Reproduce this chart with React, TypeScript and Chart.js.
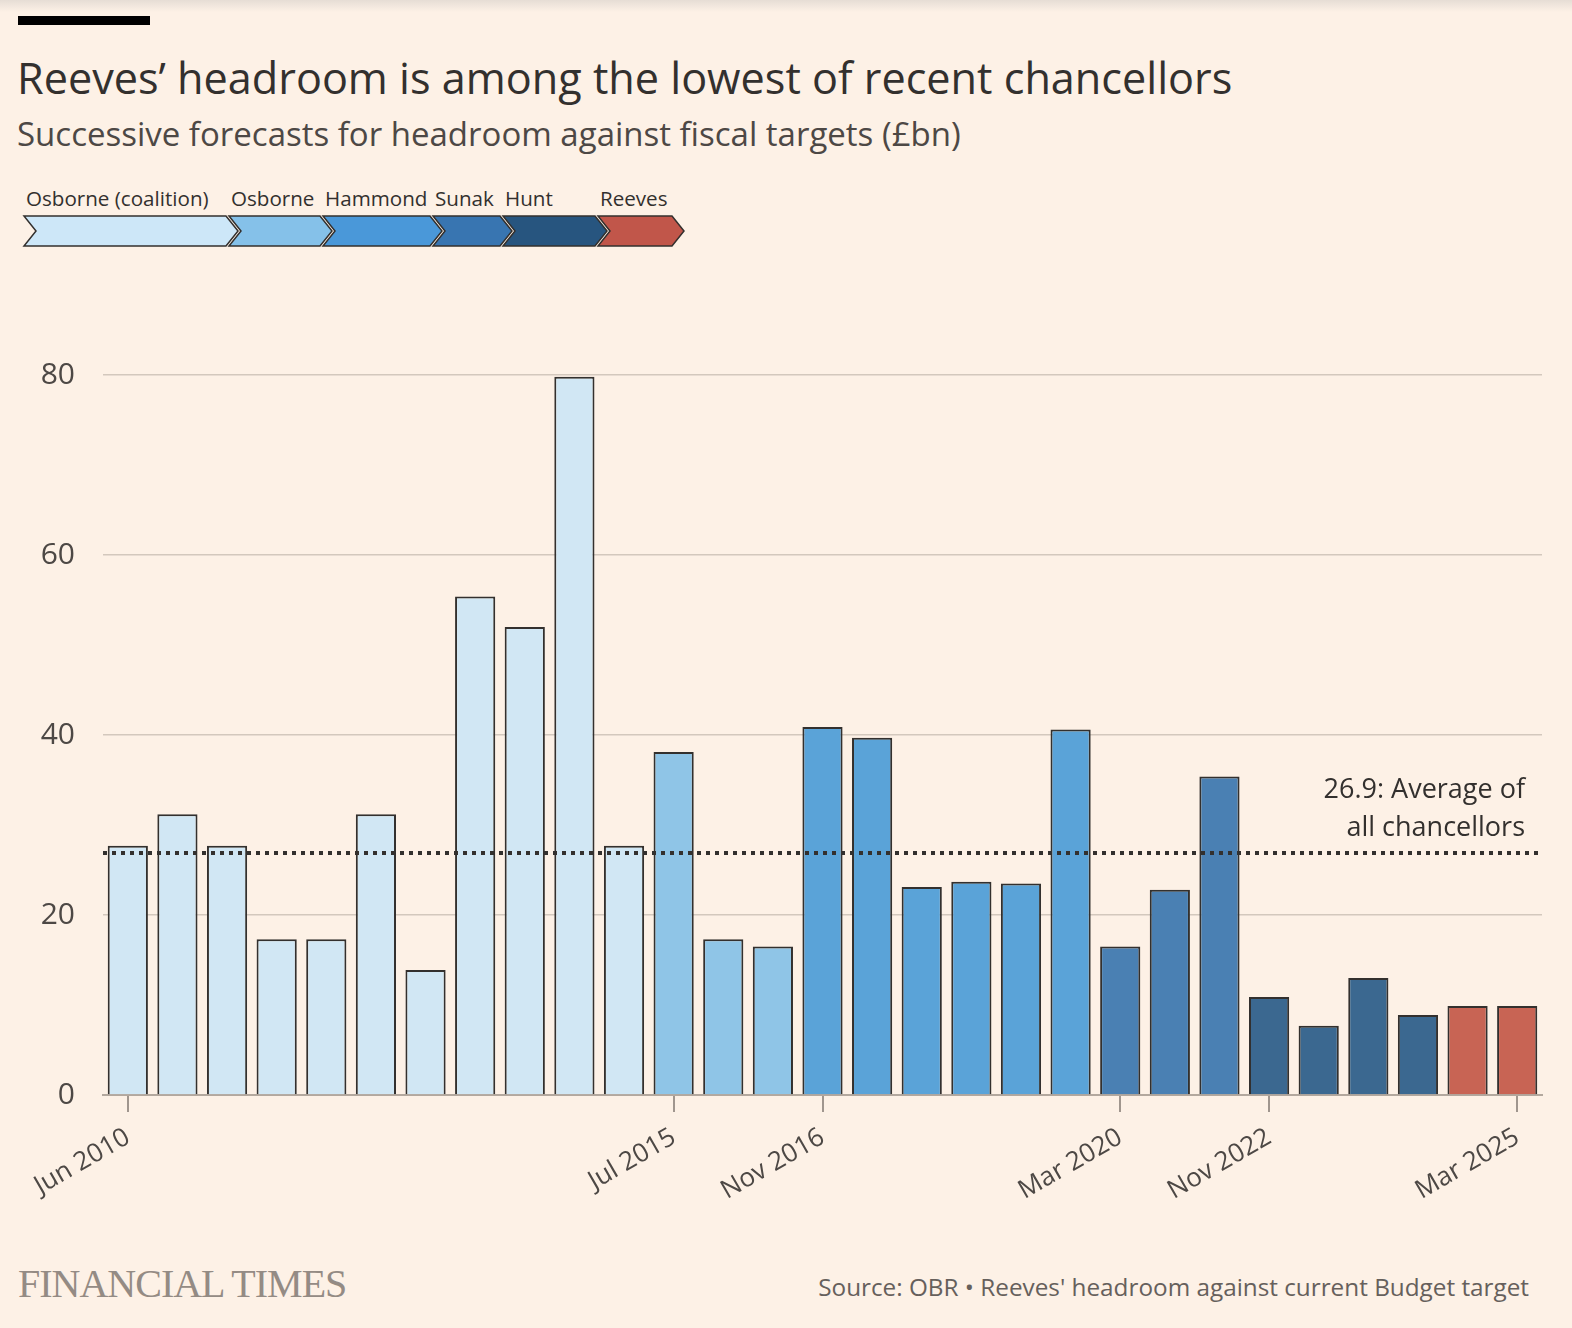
import React, { useEffect, useRef } from "react";
import { Chart, registerables } from "chart.js";

Chart.register(...registerables);

const CATEGORIES = [
  "Jun 2010", "Nov 2010", "Mar 2011", "Nov 2011", "Mar 2012", "Dec 2012", "Mar 2013",
  "Dec 2013", "Mar 2014", "Dec 2014", "Mar 2015", "Jul 2015", "Nov 2015", "Mar 2016",
  "Nov 2016", "Mar 2017", "Nov 2017", "Mar 2018", "Oct 2018", "Mar 2019", "Mar 2020",
  "Mar 2021", "Oct 2021", "Nov 2022", "Mar 2023", "Nov 2023", "Mar 2024", "Oct 2024",
  "Mar 2025",
];
const SHOWN_LABELS = ["Jun 2010", "Jul 2015", "Nov 2016", "Mar 2020", "Nov 2022", "Mar 2025"];
const HEADROOM = [
  27.7, 31.2, 27.7, 17.3, 17.3, 31.2, 13.9, 55.4, 52.0, 79.8, 27.7,
  38.1, 17.3, 16.5,
  40.9, 39.7, 23.1, 23.7, 23.5, 40.6,
  16.5, 22.8, 35.4,
  10.9, 7.7, 13.0, 8.9,
  9.9, 9.9,
];
const CHANCELLORS = ["Osborne (coalition)", "Osborne", "Hammond", "Sunak", "Hunt", "Reeves"];
const CHANCELLOR_OF_BAR = [
  0, 0, 0, 0, 0, 0, 0, 0, 0, 0, 0,
  1, 1, 1,
  2, 2, 2, 2, 2, 2,
  3, 3, 3,
  4, 4, 4, 4,
  5, 5,
];
const BAR_COLORS = ["#d1e7f4", "#8fc5e7", "#5aa3d8", "#4a80b3", "#3b6890", "#c86454"];
const LEGEND_COLORS = ["#cde7f8", "#85c1e9", "#4a98d9", "#3875b1", "#27557f", "#c1564a"];
const Y_TICKS = [0, 20, 40, 60, 80];
const AVERAGE = 26.9;
const AVERAGE_LABEL = ["26.9: Average of", "all chancellors"];

const FONT = "'Open Sans', 'Noto Sans', sans-serif";
const BG = "#fdf1e6";
const TEXT = "#33302e";

// legend chevron geometry (x start, body end)
const LEGEND_X = [
  [24, 226],
  [229, 320],
  [323, 430],
  [433, 500],
  [503, 595],
  [598, 672],
];

function Chevrons() {
  const top = 216;
  const bot = 246;
  const mid = (top + bot) / 2;
  const d = 12;
  return (
    <svg width={720} height={260} style={{ position: "absolute", left: 0, top: 0 }}>
      {CHANCELLORS.map((name, i) => {
        const [x0, x1] = LEGEND_X[i];
        const pts = `${x0},${top} ${x1},${top} ${x1 + d},${mid} ${x1},${bot} ${x0},${bot} ${x0 + d},${mid}`;
        return (
          <g key={name}>
            <polygon points={pts} fill={LEGEND_COLORS[i]} stroke={TEXT} strokeWidth={1.5} strokeLinejoin="miter" />
            <text x={x0 + 2} y={206} fontFamily={FONT} fontSize={20.6} fill={TEXT}>
              {name}
            </text>
          </g>
        );
      })}
    </svg>
  );
}

const averagePlugin = {
  id: "averageLine",
  afterDatasetsDraw(chart: any) {
    const { ctx, chartArea, scales } = chart;
    const y = scales.y.getPixelForValue(AVERAGE);
    ctx.save();
    ctx.strokeStyle = TEXT;
    ctx.lineWidth = 4;
    ctx.setLineDash([4, 5]);
    ctx.beginPath();
    ctx.moveTo(chartArea.left, y);
    ctx.lineTo(chartArea.right, y);
    ctx.stroke();
    ctx.setLineDash([]);
    ctx.fillStyle = TEXT;
    ctx.font = `27px ${FONT}`;
    ctx.textAlign = "right";
    ctx.textBaseline = "middle";
    ctx.fillText(AVERAGE_LABEL[0], chartArea.right - 17, y - 63);
    ctx.fillText(AVERAGE_LABEL[1], chartArea.right - 17, y - 25);
    ctx.restore();
  },
};

export default function App() {
  const ref = useRef<HTMLCanvasElement>(null);

  useEffect(() => {
    document.body.style.margin = "0";
    const canvas = ref.current;
    if (!canvas) return;
    const chart = new Chart(canvas, {
      type: "bar",
      data: {
        labels: CATEGORIES,
        datasets: [
          {
            data: HEADROOM,
            backgroundColor: CHANCELLOR_OF_BAR.map((c) => BAR_COLORS[c]),
            borderColor: "#33302e",
            borderWidth: 2,
            categoryPercentage: 1,
            barPercentage: 0.81,
          },
        ],
      },
      options: {
        animation: false,
        responsive: false,
        layout: { padding: { left: 0, right: 30, top: 35, bottom: 0 } },
        plugins: { legend: { display: false }, tooltip: { enabled: false } },
        scales: {
          x: {
            offset: true,
            afterFit: (s: any) => {
              s.height = 145;
            },
            grid: {
              display: true,
              offset: false,
              drawOnChartArea: false,
              drawTicks: true,
              tickLength: 17,
              lineWidth: 2,
              color: (c: any) =>
                SHOWN_LABELS.includes(CATEGORIES[c.index]) ? "#a0968e" : "rgba(0,0,0,0)",
            },
            border: { display: true, color: "#b3a89e", width: 2 },
            ticks: {
              autoSkip: false,
              minRotation: 30,
              maxRotation: 30,
              padding: 10,
              color: "#4d4845",
              font: { family: FONT, size: 26 },
              callback: (_v: any, i: number) =>
                SHOWN_LABELS.includes(CATEGORIES[i]) ? CATEGORIES[i] : "",
            },
          },
          y: {
            min: 0,
            max: 80,
            afterFit: (s: any) => {
              s.width = 103;
              s.paddingTop = 0;
              s.paddingBottom = 0;
            },
            afterBuildTicks: (s: any) => {
              s.ticks = Y_TICKS.map((v) => ({ value: v }));
            },
            grid: { color: "#d3c8bd", lineWidth: 1.5, drawTicks: false },
            border: { display: false },
            ticks: {
              padding: 28,
              color: "#4d4845",
              font: { family: FONT, size: 30 },
            },
          },
        },
      },
      plugins: [averagePlugin],
    });
    return () => chart.destroy();
  }, []);

  return (
    <div
      style={{
        position: "absolute",
        left: 0,
        top: 0,
        width: 1572,
        height: 1328,
        background: BG,
        overflow: "hidden",
        fontFamily: FONT,
        color: TEXT,
      }}
    >
      <div
        style={{
          position: "absolute",
          left: 0,
          top: 0,
          width: 1572,
          height: 12,
          background: "linear-gradient(#e6ddd5, rgba(253,241,230,0))",
        }}
      />
      <div style={{ position: "absolute", left: 18, top: 16, width: 132, height: 9, background: "#000" }} />
      <div
        style={{
          position: "absolute",
          left: 17,
          top: 49,
          fontSize: 43.2,
          lineHeight: "58px",
          whiteSpace: "nowrap",
          color: TEXT,
        }}
      >
        Reeves’ headroom is among the lowest of recent chancellors
      </div>
      <div
        style={{
          position: "absolute",
          left: 17,
          top: 112,
          fontSize: 33,
          lineHeight: "44px",
          whiteSpace: "nowrap",
          color: "#4d4845",
        }}
      >
        Successive forecasts for headroom against fiscal targets (£bn)
      </div>
      <Chevrons />
      <canvas
        ref={ref}
        width={1572}
        height={900}
        style={{ position: "absolute", left: 0, top: 340, width: 1572, height: 900 }}
      />
      <div
        style={{
          position: "absolute",
          left: 18,
          top: 1262,
          fontFamily: "'Liberation Serif', 'DejaVu Serif', serif",
          fontSize: 40,
          lineHeight: "44px",
          letterSpacing: -1,
          color: "#948b84",
          whiteSpace: "nowrap",
        }}
      >
        FINANCIAL TIMES
      </div>
      <div
        style={{
          position: "absolute",
          right: 43,
          top: 1271,
          fontSize: 24.3,
          lineHeight: "32px",
          color: "#66605c",
          whiteSpace: "nowrap",
        }}
      >
        Source: OBR • Reeves' headroom against current Budget target
      </div>
    </div>
  );
}
